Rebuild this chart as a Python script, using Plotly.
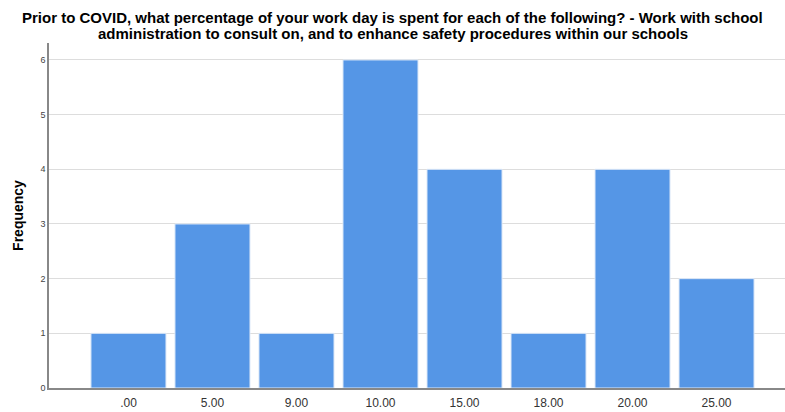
import plotly.graph_objects as go

categories = [".00", "5.00", "9.00", "10.00", "15.00", "18.00", "20.00", "25.00"]
frequency = [1, 3, 1, 6, 4, 1, 4, 2]
y_ticks = [0, 1, 2, 3, 4, 5, 6]

title_lines = [
    "Prior to COVID, what percentage of your work day is spent for each of the following? - Work with school",
    "administration to consult on, and to enhance safety procedures within our schools",
]

fig = go.Figure(go.Bar(
    x=categories, y=frequency,
    marker=dict(color="#5596E6", line=dict(color="#DCE8F8", width=1)),
    width=0.893,
))

H = 412
for i, line in enumerate(title_lines):
    fig.add_annotation(
        text=line, xref="paper", yref="paper", x=(392.5 - 49) / (785 - 49), xanchor="center",
        y=1 + (43 - (17 + 16 * i)) / (H - 43 - 24), yanchor="middle", showarrow=False,
        font=dict(size=15, color="black", family="Liberation Sans, Arial, sans-serif", weight="bold"),
    )

fig.update_layout(
    width=785, height=H,
    margin=dict(l=49, r=0, t=43, b=24),
    paper_bgcolor="white", plot_bgcolor="white",
    font=dict(family="Liberation Sans, Arial, sans-serif"),
    bargap=0.1,
    showlegend=False,
)
fig.update_xaxes(
    type="category", range=[-0.946, 7.815],
    showline=True, linecolor="#888888", linewidth=1.5,
    ticks="", tickfont=dict(size=12, color="#333333"), showgrid=False,
    ticklabelstandoff=3,
)
fig.update_yaxes(
    range=[0, 6.31], tickvals=y_ticks,
    showline=True, linecolor="#888888", linewidth=1.5,
    showgrid=True, gridcolor="#DDDDDD", gridwidth=1,
    ticks="", tickfont=dict(size=9, color="#444444"),
    title=dict(text="Frequency", font=dict(size=14, color="black", weight="bold"), standoff=14),
    zeroline=False,
)
fig.write_html("out.html", config={"displayModeBar": False},
               post_script="document.body.style.margin='0px';")
